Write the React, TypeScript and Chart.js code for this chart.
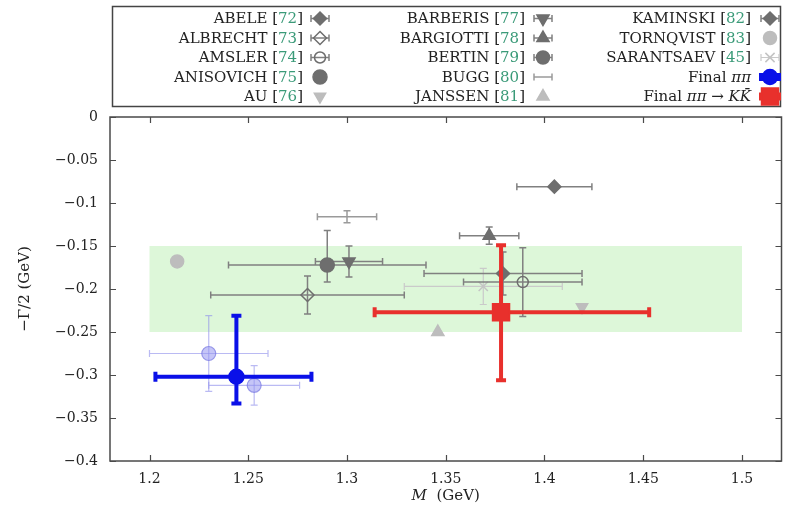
import React, { useEffect, useRef } from 'react';
import { Chart, registerables } from 'chart.js';

Chart.register(...registerables);

// ---------------- data ----------------
const X_TICKS = [1.2, 1.25, 1.3, 1.35, 1.4, 1.45, 1.5];
const Y_TICKS = [0, -0.05, -0.1, -0.15, -0.2, -0.25, -0.3, -0.35, -0.4];
const X_RANGE = [1.18, 1.52];
const Y_RANGE = [-0.4, 0];
const BAND_X = [1.2, 1.5];
const BAND_Y = [-0.25, -0.15];

const SERIES_NAMES = [
  'ABELE', 'ALBRECHT', 'AMSLER', 'ANISOVICH', 'AU',
  'BARBERIS', 'BARGIOTTI', 'BERTIN', 'BUGG', 'JANSSEN',
  'KAMINSKI', 'TORNQVIST', 'SARANTSAEV', 'Final ππ', 'Final ππ → KK̄',
];
const SERIES_REFS = ['72', '73', '74', '75', '76', '77', '78', '79', '80', '81', '82', '83', '45', '', ''];
const SERIES_X = [1.379, 1.280, 1.389, 1.290, 1.419, 1.301, 1.372, 1.290, 1.300, 1.346, 1.405, 1.214, 1.369, 1.244, 1.378];
const SERIES_Y = [-0.182, -0.207, -0.192, -0.172, -0.221, -0.168, -0.138, -0.172, -0.116, -0.250, -0.081, -0.168, -0.197, -0.302, -0.227];
const ERR_X_MINUS = [0.040, 0.049, 0.030, 0, 0, 0.017, 0.015, 0.050, 0.015, 0, 0.019, 0, 0.040, 0.041, 0.064];
const ERR_X_PLUS = [0.040, 0.049, 0.030, 0, 0, 0.017, 0.015, 0.050, 0.015, 0, 0.019, 0, 0.040, 0.038, 0.075];
const ERR_Y_MINUS = [0.025, 0.022, 0.040, 0, 0, 0.018, 0.010, 0.020, 0.007, 0, 0, 0, 0.021, 0.031, 0.079];
const ERR_Y_PLUS = [0.025, 0.022, 0.040, 0, 0, 0.018, 0.010, 0.040, 0.007, 0, 0, 0, 0.021, 0.071, 0.078];

// unlabeled light-blue points
const EXTRA_X = [1.230, 1.253];
const EXTRA_Y = [-0.275, -0.312];
const EXTRA_ERR_X = [0.030, 0.023];
const EXTRA_ERR_Y = [0.044, 0.023];

// ---------------- styles ----------------
const DG = '#6e6e6e';
const BG = '#808080';
const LG = '#bdbdbd';
const NONE = 'rgba(0,0,0,0)';
const BLUE = '#0a10e8';
const RED = '#e8302c';

type Style = { shape: string; r: number; rot: number; fill: string; stroke: string; bar: string; bw: number; cap: number; order: number; bw2?: number };
const SERIES_STYLE: Style[] = [
  { shape: 'rectRot', r: 6.5, rot: 0, fill: DG, stroke: DG, bar: BG, bw: 1.5, cap: 3.5, order: 2 },
  { shape: 'rectRot', r: 6.5, rot: 0, fill: NONE, stroke: DG, bar: BG, bw: 1.5, cap: 3.5, order: 2 },
  { shape: 'circle', r: 5.5, rot: 0, fill: NONE, stroke: DG, bar: BG, bw: 1.5, cap: 3.5, order: 2 },
  { shape: 'circle', r: 7, rot: 0, fill: DG, stroke: DG, bar: BG, bw: 1.5, cap: 3.5, order: 2 },
  { shape: 'triangle', r: 6.5, rot: 180, fill: LG, stroke: LG, bar: LG, bw: 1.5, cap: 3.5, order: 2 },
  { shape: 'triangle', r: 7, rot: 180, fill: DG, stroke: DG, bar: BG, bw: 1.5, cap: 3.5, order: 2 },
  { shape: 'triangle', r: 7, rot: 0, fill: DG, stroke: DG, bar: BG, bw: 1.5, cap: 3.5, order: 2 },
  { shape: 'circle', r: 6.5, rot: 0, fill: DG, stroke: DG, bar: BG, bw: 1.5, cap: 3.5, order: 2 },
  { shape: 'none', r: 0, rot: 0, fill: NONE, stroke: NONE, bar: '#9a9a9a', bw: 1.5, cap: 3.5, order: 2 },
  { shape: 'triangle', r: 7, rot: 0, fill: LG, stroke: LG, bar: LG, bw: 1.5, cap: 3.5, order: 2 },
  { shape: 'rectRot', r: 6.5, rot: 0, fill: DG, stroke: DG, bar: BG, bw: 1.5, cap: 3.5, order: 2 },
  { shape: 'circle', r: 6.5, rot: 0, fill: LG, stroke: LG, bar: LG, bw: 1.5, cap: 3.5, order: 2 },
  { shape: 'crossRot', r: 6.5, rot: 0, fill: NONE, stroke: '#c4c4c4', bar: '#cacaca', bw: 1.2, cap: 3.5, order: 2 },
  { shape: 'circle', r: 7.5, rot: 0, fill: BLUE, stroke: BLUE, bar: BLUE, bw: 4, cap: 5, order: 0 },
  { shape: 'rect', r: 12, rot: 0, fill: RED, stroke: RED, bar: RED, bw: 4, cap: 5, order: 0 },
];
const EXTRA_STYLE: Style = { shape: 'circle', r: 7, rot: 0, fill: 'rgba(150,150,240,0.55)', stroke: 'rgba(120,120,225,0.7)', bar: 'rgba(140,140,235,0.6)', bw: 1.2, cap: 3.5, order: 1 };

const FONT = '"DejaVu Serif", "Liberation Serif", serif';
const TEXT = '#222';
const REF_GREEN = '#3a9a78';

// ---------------- helpers ----------------
function drawShape(ctx: CanvasRenderingContext2D, st: Style, x: number, y: number) {
  if (st.shape === 'none') return;
  const r = st.r;
  ctx.save();
  ctx.translate(x, y);
  ctx.rotate((st.rot * Math.PI) / 180);
  ctx.beginPath();
  if (st.shape === 'circle') {
    ctx.arc(0, 0, r, 0, Math.PI * 2);
  } else if (st.shape === 'rectRot') {
    ctx.moveTo(0, -r); ctx.lineTo(r, 0); ctx.lineTo(0, r); ctx.lineTo(-r, 0); ctx.closePath();
  } else if (st.shape === 'triangle') {
    for (let k = 0; k < 3; k++) {
      const a = (k * 2 * Math.PI) / 3;
      const px = Math.sin(a) * r, py = -Math.cos(a) * r;
      if (k === 0) ctx.moveTo(px, py); else ctx.lineTo(px, py);
    }
    ctx.closePath();
  } else if (st.shape === 'rect') {
    const s = r * Math.SQRT1_2;
    ctx.rect(-s, -s, 2 * s, 2 * s);
  } else if (st.shape === 'crossRot') {
    const d = r * Math.SQRT1_2;
    ctx.moveTo(-d, -d); ctx.lineTo(d, d); ctx.moveTo(d, -d); ctx.lineTo(-d, d);
  }
  if (st.shape !== 'crossRot' && st.fill !== NONE) { ctx.fillStyle = st.fill; ctx.fill(); }
  ctx.strokeStyle = st.stroke;
  ctx.lineWidth = 1.5;
  ctx.stroke();
  ctx.restore();
}

function hbar(ctx: CanvasRenderingContext2D, x0: number, x1: number, y: number, cap: number) {
  ctx.beginPath();
  ctx.moveTo(x0, y); ctx.lineTo(x1, y);
  ctx.moveTo(x0, y - cap); ctx.lineTo(x0, y + cap);
  ctx.moveTo(x1, y - cap); ctx.lineTo(x1, y + cap);
  ctx.stroke();
}
function vbar(ctx: CanvasRenderingContext2D, y0: number, y1: number, x: number, cap: number) {
  ctx.beginPath();
  ctx.moveTo(x, y0); ctx.lineTo(x, y1);
  ctx.moveTo(x - cap, y0); ctx.lineTo(x + cap, y0);
  ctx.moveTo(x - cap, y1); ctx.lineTo(x + cap, y1);
  ctx.stroke();
}

const LEGEND_BOX = { x: 112.5, y: 6.5, w: 668, h: 100 };
const COL_TEXT_RIGHT = [303, 525, 751];
const COL_SYM_X = [320, 543, 770];
const ROW_Y0 = 18.5;
const ROW_DY = 19.5;

const plotPlugin = {
  id: 'plotExtras',
  beforeDatasetsDraw(chart: any) {
    const { ctx, chartArea: a, scales } = chart;
    const xs = scales.x, ys = scales.y;
    ctx.save();
    ctx.fillStyle = 'rgb(221,247,217)';
    const x0 = xs.getPixelForValue(BAND_X[0]), x1 = xs.getPixelForValue(BAND_X[1]);
    const y0 = ys.getPixelForValue(BAND_Y[1]), y1 = ys.getPixelForValue(BAND_Y[0]);
    ctx.fillRect(x0, y0, x1 - x0, y1 - y0);
    ctx.restore();
  },
  beforeDatasetDraw(chart: any, args: any) {
    const ds = chart.data.datasets[args.index];
    if (!ds.err) return;
    const { ctx, scales } = chart;
    const xs = scales.x, ys = scales.y;
    const st: Style = ds.st;
    ctx.save();
    ctx.strokeStyle = st.bar;
    ctx.lineWidth = st.bw;
    ctx.lineCap = 'butt';
    ds.data.forEach((p: any, i: number) => {
      const e = ds.err[i];
      const cx = xs.getPixelForValue(p.x), cy = ys.getPixelForValue(p.y);
      if (e.xm || e.xp) hbar(ctx, xs.getPixelForValue(p.x - e.xm), xs.getPixelForValue(p.x + e.xp), cy, st.cap);
      if (e.ym || e.yp) vbar(ctx, ys.getPixelForValue(p.y + e.yp), ys.getPixelForValue(p.y - e.ym), cx, st.cap);
    });
    ctx.restore();
  },
  afterDraw(chart: any) {
    const { ctx, chartArea: a, scales } = chart;
    const xs = scales.x, ys = scales.y;
    ctx.save();
    // frame
    ctx.strokeStyle = '#4a4a4a';
    ctx.lineWidth = 1.5;
    ctx.strokeRect(a.left, a.top, a.right - a.left, a.bottom - a.top);
    // inward ticks
    ctx.lineWidth = 1.2;
    ctx.beginPath();
    X_TICKS.forEach((v) => {
      const px = Math.round(xs.getPixelForValue(v)) + 0.5;
      ctx.moveTo(px, a.bottom); ctx.lineTo(px, a.bottom - 6);
      ctx.moveTo(px, a.top); ctx.lineTo(px, a.top + 6);
    });
    Y_TICKS.forEach((v) => {
      const py = Math.round(ys.getPixelForValue(v)) + 0.5;
      ctx.moveTo(a.left, py); ctx.lineTo(a.left + 6, py);
      ctx.moveTo(a.right, py); ctx.lineTo(a.right - 6, py);
    });
    ctx.stroke();

    // axis titles
    ctx.fillStyle = TEXT;
    ctx.textBaseline = 'middle';
    const cxT = (a.left + a.right) / 2;
    ctx.font = `italic 15px ${FONT}`;
    const wM = ctx.measureText('M').width;
    ctx.font = `15px ${FONT}`;
    const wRest = ctx.measureText('  (GeV)').width;
    let sx = cxT - (wM + wRest) / 2;
    ctx.font = `italic 15px ${FONT}`;
    ctx.textAlign = 'left';
    ctx.fillText('M', sx, 496);
    ctx.font = `15px ${FONT}`;
    ctx.fillText('  (GeV)', sx + wM, 496);

    ctx.save();
    ctx.translate(25, (a.top + a.bottom) / 2);
    ctx.rotate(-Math.PI / 2);
    ctx.textAlign = 'center';
    ctx.font = `15px ${FONT}`;
    ctx.fillText('\u2212\u0393/2 (GeV)', 0, 0);
    ctx.restore();

    // legend box
    ctx.strokeStyle = '#444';
    ctx.lineWidth = 1.5;
    ctx.strokeRect(LEGEND_BOX.x, LEGEND_BOX.y, LEGEND_BOX.w, LEGEND_BOX.h);
    ctx.textBaseline = 'middle';
    ctx.textAlign = 'left';
    SERIES_NAMES.forEach((name, i) => {
      const col = Math.floor(i / 5), row = i % 5;
      const y = ROW_Y0 + row * ROW_DY;
      let parts: { t: string; c: string; it: boolean }[];
      if (SERIES_REFS[i]) {
        parts = [
          { t: name + ' [', c: TEXT, it: false },
          { t: SERIES_REFS[i], c: REF_GREEN, it: false },
          { t: ']', c: TEXT, it: false },
        ];
      } else if (name.indexOf('→') >= 0) {
        parts = [
          { t: 'Final ', c: TEXT, it: false },
          { t: 'ππ', c: TEXT, it: true },
          { t: ' → ', c: TEXT, it: false },
          { t: 'KK̄', c: TEXT, it: true },
        ];
      } else {
        parts = [
          { t: 'Final ', c: TEXT, it: false },
          { t: 'ππ', c: TEXT, it: true },
        ];
      }
      const widths = parts.map((p) => {
        ctx.font = `${p.it ? 'italic ' : ''}15px ${FONT}`;
        return ctx.measureText(p.t).width;
      });
      const total = widths.reduce((s, w) => s + w, 0);
      let x = COL_TEXT_RIGHT[col] - total;
      parts.forEach((p, k) => {
        ctx.font = `${p.it ? 'italic ' : ''}15px ${FONT}`;
        ctx.fillStyle = p.c;
        ctx.fillText(p.t, x, y + 1);
        x += widths[k];
      });
      // symbol
      const st = SERIES_STYLE[i];
      const sxm = COL_SYM_X[col];
      if (ERR_X_MINUS[i] || ERR_X_PLUS[i]) {
        ctx.strokeStyle = st.bar;
        ctx.lineWidth = st.bw;
        hbar(ctx, sxm - 9, sxm + 9, y, st.bw > 2 ? 4 : 3.5);
      }
      drawShape(ctx, st, sxm, y);
    });
    ctx.restore();
  },
};

export default function App() {
  const ref = useRef<HTMLCanvasElement | null>(null);
  useEffect(() => {
    if (!ref.current) return;
    const datasets: any[] = SERIES_NAMES.map((name, i) => {
      const st = SERIES_STYLE[i];
      return {
        label: name,
        data: [{ x: SERIES_X[i], y: SERIES_Y[i] }],
        err: [{ xm: ERR_X_MINUS[i], xp: ERR_X_PLUS[i], ym: ERR_Y_MINUS[i], yp: ERR_Y_PLUS[i] }],
        st,
        order: st.order,
        pointStyle: st.shape === 'none' ? 'circle' : st.shape,
        pointRadius: st.r,
        pointRotation: st.rot,
        backgroundColor: st.fill,
        borderColor: st.stroke,
        pointBorderWidth: 1.5,
        showLine: false,
      };
    });
    datasets.push({
      label: 'extra',
      data: EXTRA_X.map((x, i) => ({ x, y: EXTRA_Y[i] })),
      err: EXTRA_X.map((_, i) => ({ xm: EXTRA_ERR_X[i], xp: EXTRA_ERR_X[i], ym: EXTRA_ERR_Y[i], yp: EXTRA_ERR_Y[i] })),
      st: EXTRA_STYLE,
      order: EXTRA_STYLE.order,
      pointStyle: 'circle',
      pointRadius: EXTRA_STYLE.r,
      backgroundColor: EXTRA_STYLE.fill,
      borderColor: EXTRA_STYLE.stroke,
      pointBorderWidth: 1.2,
      showLine: false,
    });

    const chart = new Chart(ref.current, {
      type: 'scatter',
      data: { datasets },
      options: {
        animation: false,
        responsive: true,
        maintainAspectRatio: false,
        layout: { padding: { top: 117, right: 13, left: 0, bottom: 0 } },
        plugins: { legend: { display: false }, tooltip: { enabled: false } },
        scales: {
          x: {
            type: 'linear',
            min: X_RANGE[0],
            max: X_RANGE[1],
            afterBuildTicks: (s: any) => { s.ticks = X_TICKS.map((v) => ({ value: v })); },
            afterFit: (s: any) => { s.height = 51; },
            grid: { display: false, drawTicks: false },
            border: { display: false },
            ticks: {
              padding: 10,
              color: TEXT,
              font: { family: FONT, size: 14 },
              maxRotation: 0,
              callback: (v: any) => String(v),
            },
          },
          y: {
            type: 'linear',
            min: Y_RANGE[0],
            max: Y_RANGE[1],
            afterBuildTicks: (s: any) => { s.ticks = Y_TICKS.map((v) => ({ value: v })); },
            afterFit: (s: any) => { s.width = 110; },
            grid: { display: false, drawTicks: false },
            border: { display: false },
            ticks: {
              padding: 12,
              color: TEXT,
              font: { family: FONT, size: 14 },
              callback: (v: any) => (v === 0 ? '0' : '\u2212' + String(Math.abs(v))),
            },
          },
        },
      } as any,
      plugins: [plotPlugin as any],
    });
    return () => chart.destroy();
  }, []);
  return (
    <div style={{ position: 'absolute', left: 0, top: 0, width: 795, height: 512, background: '#fff' }}>
      <canvas ref={ref} />
    </div>
  );
}
